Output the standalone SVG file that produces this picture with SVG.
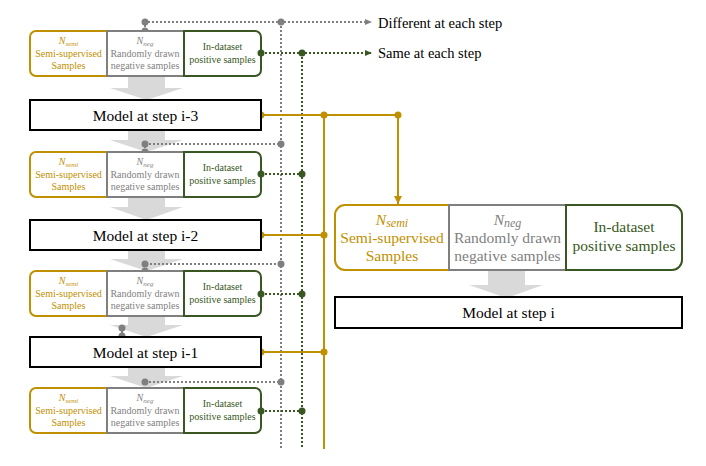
<svg xmlns="http://www.w3.org/2000/svg" width="706" height="466" viewBox="0 0 706 466" font-family="'Liberation Serif', 'Times New Roman', serif">
<style>
.bigarrow{fill:#D9D9D9}
.gold{fill:none;stroke:#BF9000;stroke-width:2}
.gray{fill:#fff;stroke:#7F7F7F;stroke-width:2}
.green{fill:none;stroke:#385723;stroke-width:2}
.model{fill:#fff;stroke:#000;stroke-width:2}
.tg{fill:#BF9000}.tr{fill:#7F7F7F}.tn{fill:#385723}
.s{font-size:10px;text-anchor:middle;font-family:'Liberation Serif',serif}
.b{font-size:15.5px;text-anchor:middle;font-family:'Liberation Serif',serif}
.m{font-size:15.5px;text-anchor:middle;fill:#000;font-family:'Liberation Serif',serif}
.leg{font-size:14.5px;fill:#000;font-family:'Liberation Serif',serif}
.dg{fill:none;stroke:#7F7F7F;stroke-width:2;stroke-dasharray:2 2}
.dn{fill:none;stroke:#385723;stroke-width:2;stroke-dasharray:2 2}
.sg{fill:none;stroke:#BF9000;stroke-width:2}
.pg{fill:#7F7F7F}.pn{fill:#385723}.pd{fill:#BF9000}
</style>
<defs>
<marker id="ag" markerWidth="8" markerHeight="8" refX="7" refY="4" orient="auto" markerUnits="userSpaceOnUse"><path d="M0,1 L7,4 L0,7 Z" fill="#7F7F7F"/></marker>
<marker id="an" markerWidth="8" markerHeight="8" refX="7" refY="4" orient="auto" markerUnits="userSpaceOnUse"><path d="M0,1 L7,4 L0,7 Z" fill="#385723"/></marker>
<marker id="ad" markerWidth="10" markerHeight="10" refX="8" refY="5" orient="auto" markerUnits="userSpaceOnUse"><path d="M0,1 L8,5 L0,9 Z" fill="#BF9000"/></marker>
</defs>

<g id="flow-arrows">
<polygon class="bigarrow" points="128,76 165,76 165,88 183,88 146.5,100 110,88 128,88"/>
<polygon class="bigarrow" points="128,130 165,130 165,140 183,140 146.5,152 110,140 128,140"/>
<polygon class="bigarrow" points="128,197 165,197 165,207 183,207 146.5,220 110,207 128,207"/>
<polygon class="bigarrow" points="128,250 165,250 165,259 183,259 146.5,271 110,259 128,259"/>
<polygon class="bigarrow" points="128,316 165,316 165,325 183,325 146.5,337 110,325 128,325"/>
<polygon class="bigarrow" points="128,367 165,367 165,376 183,376 146.5,388 110,376 128,376"/>
<polygon class="bigarrow" points="488,270 525,270 525,285 543,285 506.5,298 469,285 488,285"/>
</g>

<g id="connectors">
<path class="dg" d="M281,22 V449"/>
<path class="dn" d="M302,53 V449"/>
<path class="sg" d="M324,115 V449"/>
<path class="dg" d="M145,31 V22 H372" marker-end="url(#ag)"/>
<path class="dn" d="M261,53 H372" marker-end="url(#an)"/>
<path class="dg" d="M145,152 V144 H281"/>
<path class="dn" d="M261,174 H302"/>
<path class="dg" d="M145,271 V264 H281"/>
<path class="dn" d="M261,294 H302"/>
<path class="dg" d="M122,337 V328"/>
<path class="dg" d="M145,382 H281"/>
<path class="dn" d="M261,411 H302"/>
<path class="sg" d="M261,115 H398 V204" marker-end="url(#ad)"/>
<path class="sg" d="M261,235 H324"/>
<path class="sg" d="M261,352 H324"/>
<g class="pg">
<circle cx="145" cy="22" r="3.5"/><circle cx="145" cy="31" r="3.5"/><circle cx="281" cy="22" r="3.5"/>
<circle cx="145" cy="144" r="3.5"/><circle cx="145" cy="152" r="3.5"/><circle cx="281" cy="144" r="3.5"/>
<circle cx="145" cy="264" r="3.5"/><circle cx="145" cy="271" r="3.5"/><circle cx="281" cy="264" r="3.5"/>
<circle cx="122" cy="328" r="3.5"/><circle cx="122" cy="336" r="3.5"/>
<circle cx="145" cy="382" r="3.5"/><circle cx="281" cy="382" r="3.5"/>
</g>
<g class="pn">
<circle cx="261" cy="53" r="3.5"/><circle cx="302" cy="53" r="3.5"/>
<circle cx="261" cy="174" r="3.5"/><circle cx="302" cy="174" r="3.5"/>
<circle cx="261" cy="294" r="3.5"/><circle cx="302" cy="294" r="3.5"/>
<circle cx="261" cy="411" r="3.5"/><circle cx="302" cy="411" r="3.5"/>
</g>
<g class="pd">
<circle cx="261" cy="115" r="3.5"/><circle cx="324" cy="115" r="3.5"/><circle cx="398" cy="115" r="3.5"/>
<circle cx="261" cy="235" r="3.5"/><circle cx="324" cy="235" r="3.5"/>
<circle cx="261" cy="352" r="3.5"/><circle cx="324" cy="352" r="3.5"/>
</g>
</g>

<g id="legend">
<text class="leg" x="378" y="28">Different at each step</text>
<text class="leg" x="378" y="58">Same at each step</text>
</g>

<g id="samples-1" transform="translate(0,31)">
<path class="gold" d="M107,0 H36 A6,6 0 0 0 30,6 V39 A6,6 0 0 0 36,45 H107 Z" fill="#fff"/>
<rect class="gray" x="107" y="0" width="77" height="45"/>
<path class="green" d="M184,0 H255 A6,6 0 0 1 261,6 V39 A6,6 0 0 1 255,45 H184 Z"/>
<text class="s tg" x="68.5" y="13"><tspan font-style="italic">N</tspan><tspan font-style="italic" font-size="7" dy="2">semi</tspan></text>
<text class="s tg" x="68.5" y="26">Semi-supervised</text>
<text class="s tg" x="68.5" y="38">Samples</text>
<text class="s tr" x="145" y="13"><tspan font-style="italic">N</tspan><tspan font-style="italic" font-size="7" dy="2">neg</tspan></text>
<text class="s tr" x="145" y="26">Randomly drawn</text>
<text class="s tr" x="145" y="38">negative samples</text>
<text class="s tn" x="222.5" y="19">In-dataset</text>
<text class="s tn" x="222.5" y="32">positive samples</text>
</g>

<g id="model-i-3">
<rect class="model" x="30" y="100" width="231" height="30"/>
<text class="m" x="145.5" y="120.5">Model at step i-3</text>
</g>

<g id="samples-2" transform="translate(0,152)">
<path class="gold" d="M107,0 H36 A6,6 0 0 0 30,6 V39 A6,6 0 0 0 36,45 H107 Z" fill="#fff"/>
<rect class="gray" x="107" y="0" width="77" height="45"/>
<path class="green" d="M184,0 H255 A6,6 0 0 1 261,6 V39 A6,6 0 0 1 255,45 H184 Z"/>
<text class="s tg" x="68.5" y="13"><tspan font-style="italic">N</tspan><tspan font-style="italic" font-size="7" dy="2">semi</tspan></text>
<text class="s tg" x="68.5" y="26">Semi-supervised</text>
<text class="s tg" x="68.5" y="38">Samples</text>
<text class="s tr" x="145" y="13"><tspan font-style="italic">N</tspan><tspan font-style="italic" font-size="7" dy="2">neg</tspan></text>
<text class="s tr" x="145" y="26">Randomly drawn</text>
<text class="s tr" x="145" y="38">negative samples</text>
<text class="s tn" x="222.5" y="19">In-dataset</text>
<text class="s tn" x="222.5" y="32">positive samples</text>
</g>

<g id="model-i-2">
<rect class="model" x="30" y="220" width="231" height="30"/>
<text class="m" x="145.5" y="240.5">Model at step i-2</text>
</g>

<g id="samples-3" transform="translate(0,271)">
<path class="gold" d="M107,0 H36 A6,6 0 0 0 30,6 V39 A6,6 0 0 0 36,45 H107 Z" fill="#fff"/>
<rect class="gray" x="107" y="0" width="77" height="45"/>
<path class="green" d="M184,0 H255 A6,6 0 0 1 261,6 V39 A6,6 0 0 1 255,45 H184 Z"/>
<text class="s tg" x="68.5" y="13"><tspan font-style="italic">N</tspan><tspan font-style="italic" font-size="7" dy="2">semi</tspan></text>
<text class="s tg" x="68.5" y="26">Semi-supervised</text>
<text class="s tg" x="68.5" y="38">Samples</text>
<text class="s tr" x="145" y="13"><tspan font-style="italic">N</tspan><tspan font-style="italic" font-size="7" dy="2">neg</tspan></text>
<text class="s tr" x="145" y="26">Randomly drawn</text>
<text class="s tr" x="145" y="38">negative samples</text>
<text class="s tn" x="222.5" y="19">In-dataset</text>
<text class="s tn" x="222.5" y="32">positive samples</text>
</g>

<g id="model-i-1">
<rect class="model" x="30" y="337" width="231" height="30"/>
<text class="m" x="145.5" y="357.5">Model at step i-1</text>
</g>

<g id="samples-4" transform="translate(0,388)">
<path class="gold" d="M107,0 H36 A6,6 0 0 0 30,6 V39 A6,6 0 0 0 36,45 H107 Z" fill="#fff"/>
<rect class="gray" x="107" y="0" width="77" height="45"/>
<path class="green" d="M184,0 H255 A6,6 0 0 1 261,6 V39 A6,6 0 0 1 255,45 H184 Z"/>
<text class="s tg" x="68.5" y="13"><tspan font-style="italic">N</tspan><tspan font-style="italic" font-size="7" dy="2">semi</tspan></text>
<text class="s tg" x="68.5" y="26">Semi-supervised</text>
<text class="s tg" x="68.5" y="38">Samples</text>
<text class="s tr" x="145" y="13"><tspan font-style="italic">N</tspan><tspan font-style="italic" font-size="7" dy="2">neg</tspan></text>
<text class="s tr" x="145" y="26">Randomly drawn</text>
<text class="s tr" x="145" y="38">negative samples</text>
<text class="s tn" x="222.5" y="19">In-dataset</text>
<text class="s tn" x="222.5" y="32">positive samples</text>
</g>

<g id="samples-i">
<path class="gold" d="M449,205 H345 A10,10 0 0 0 335,215 V260 A10,10 0 0 0 345,270 H449 Z" fill="#fff"/>
<rect class="gray" x="449" y="205" width="117" height="65"/>
<path class="green" d="M566,205 H672 A10,10 0 0 1 682,215 V260 A10,10 0 0 1 672,270 H566 Z"/>
<text class="b tg" x="392" y="225" font-size="17"><tspan font-style="italic">N</tspan><tspan font-style="italic" font-size="12" dy="2">semi</tspan></text>
<text class="b tg" x="392" y="243">Semi-supervised</text>
<text class="b tg" x="392" y="261">Samples</text>
<text class="b tr" x="507.5" y="225" font-size="17"><tspan font-style="italic">N</tspan><tspan font-style="italic" font-size="12" dy="2">neg</tspan></text>
<text class="b tr" x="507.5" y="243">Randomly drawn</text>
<text class="b tr" x="507.5" y="261">negative samples</text>
<text class="b tn" x="624" y="232">In-dataset</text>
<text class="b tn" x="624" y="251">positive samples</text>
</g>

<g id="model-i">
<rect class="model" x="335" y="297" width="347" height="31"/>
<text class="m" x="508.5" y="318">Model at step i</text>
</g>
</svg>
